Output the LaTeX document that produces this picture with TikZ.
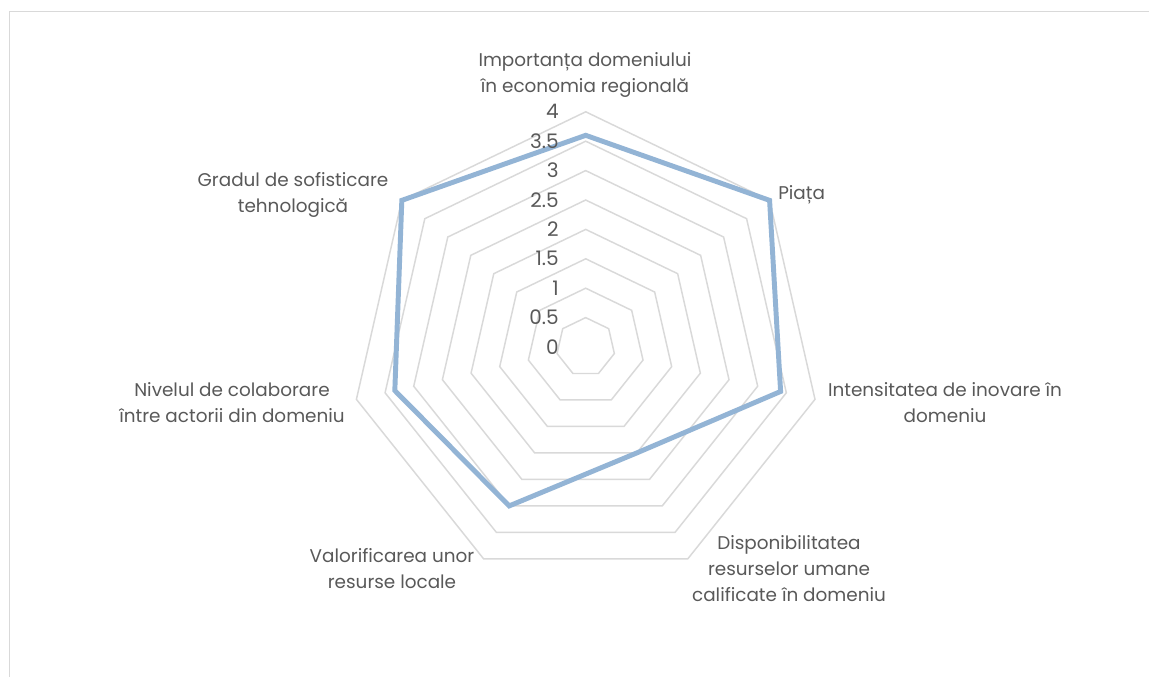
\documentclass[tikz,border=0pt]{standalone}
\usepackage{fontspec}
\setmainfont{Poppins}
\usetikzlibrary{calc}
\definecolor{gridc}{HTML}{D9D9D9}
\definecolor{txt}{HTML}{595959}
\definecolor{ser}{HTML}{93B4D5}
\begin{document}
\begin{tikzpicture}[x=0.75pt,y=0.75pt,
  lbl/.style={text=txt,font=\fontsize{13.8}{19.5}\selectfont,align=center,inner sep=0pt},
  ticklbl/.style={text=txt,font=\fontsize{15}{19.5}\selectfont,inner sep=0pt,anchor=east},
  ring/.style={draw=gridc,line width=1.1pt,line join=miter},
  series/.style={draw=ser,line width=3.7pt,line join=miter}]
\useasboundingbox (0,0) rectangle (1149,-677);
\fill[white] (0,0) rectangle (1149,-677);
\draw[gridc,line width=1.3pt] (9.5,-677) -- (9.5,-11.5) -- (1149,-11.5);
\coordinate (C) at (585.7,-347);
\def\u{58.8}
\foreach \r in {0.5,1,1.5,2,2.5,3,3.5,4}{
  \draw[ring] ($(C)+(90:\r*\u)$) \foreach \k in {1,...,6}{ -- ($(C)+(90-\k*360/7:\r*\u)$) } -- cycle;
}
\coordinate (p0) at ($(C)+(90:3.6*\u)$);
\coordinate (p1) at ($(C)+(90-360/7:4*\u)$);
\coordinate (p2) at ($(C)+(90-2*360/7:3.4*\u)$);
\coordinate (p3) at ($(C)+(90-3*360/7:2*\u)$);
\coordinate (p4) at ($(C)+(90-4*360/7:3*\u)$);
\coordinate (p5) at ($(C)+(90-5*360/7:3.33*\u)$);
\coordinate (p6) at ($(C)+(90-6*360/7:4*\u)$);
\draw[series] (p0) -- (p1) -- (p2) -- (p3) -- (p4) -- (p5) -- (p6) -- cycle;
\foreach \v/\t in {0/0,0.5/0.5,1/1,1.5/1.5,2/2,2.5/2.5,3/3,3.5/3.5,4/4}{
  \node[ticklbl] at (559,-347+\v*\u) {\t};
}
\node[lbl] (l0) at (585,-75) {Importanța domeniului\\în economia regională};
\node[lbl,anchor=west] (l1) at (778,-195) {Piața};
\node[lbl] (l2) at (945,-402.5) {Intensitatea de inovare în\\domeniu};
\node[lbl] (l3) at (789,-569) {Disponibilitatea\\resurselor umane\\calificate în domeniu};
\node[lbl] (l4) at (392,-568.5) {Valorificarea unor\\resurse locale};
\node[lbl] (l5) at (232,-402.5) {Nivelul de colaborare\\între actorii din domeniu};
\node[lbl] (l6) at (293,-194.5) {Gradul de sofisticare\\tehnologică};
\end{tikzpicture}
\end{document}
